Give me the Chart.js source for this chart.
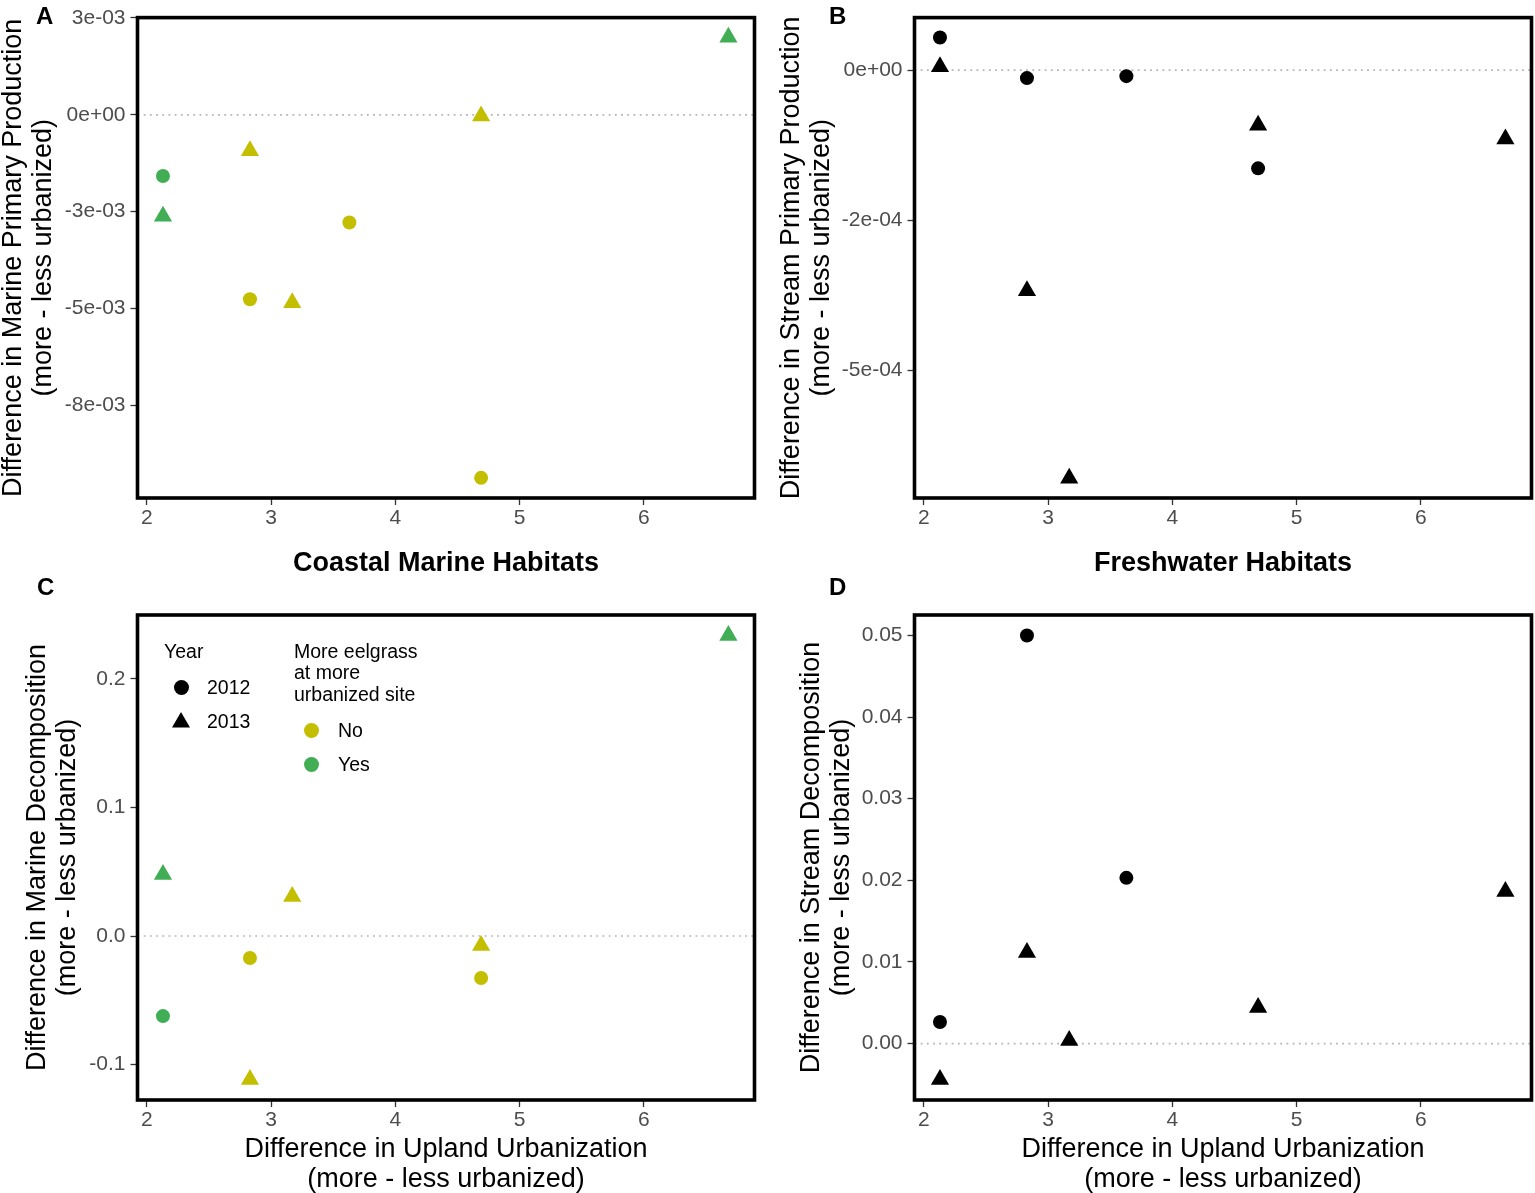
<!DOCTYPE html>
<html>
<head>
<meta charset="utf-8">
<script src="https://cdn.jsdelivr.net/npm/chart.js@4.4.1/dist/chart.umd.min.js"></script>
<style>
html,body{margin:0;padding:0;background:#fff;}
body{width:1535px;height:1193px;position:relative;overflow:hidden;font-family:'Liberation Sans',Arial,Helvetica,sans-serif;}
canvas{position:absolute;display:block;}
.letter{position:absolute;font-weight:bold;font-size:24px;line-height:24px;color:#000;}
.leg{position:absolute;font-size:19.5px;line-height:21.3px;color:#000;white-space:nowrap;}
.mk{position:absolute;}
.circ{width:15px;height:15px;border-radius:50%;}
.tri{width:18px;height:15.6px;clip-path:polygon(50% 0,100% 100%,0 100%);background:#000;}
</style>
</head>
<body>
<canvas id="cA" width="767" height="580" style="left:0;top:0;width:767px;height:580px"></canvas>
<canvas id="cB" width="760" height="580" style="left:775px;top:0;width:760px;height:580px"></canvas>
<canvas id="cC" width="767" height="613" style="left:0;top:580px;width:767px;height:613px"></canvas>
<canvas id="cD" width="760" height="613" style="left:775px;top:580px;width:760px;height:613px"></canvas>

<div class="letter" style="left:36px;top:4px">A</div>
<div class="letter" style="left:829px;top:4px">B</div>
<div class="letter" style="left:37px;top:575px">C</div>
<div class="letter" style="left:829px;top:575px">D</div>

<!-- legend inside panel C -->
<div class="leg" style="left:164px;top:641px">Year</div>
<div class="mk circ" style="left:173.5px;top:679.5px;background:#000"></div>
<div class="leg" style="left:207px;top:677px">2012</div>
<div class="mk tri" style="left:172px;top:712px"></div>
<div class="leg" style="left:207px;top:711px">2013</div>
<div class="leg" style="left:294px;top:641px">More eelgrass<br>at more<br>urbanized site</div>
<div class="mk circ" id="legNo" style="left:303.5px;top:722.5px"></div>
<div class="leg" style="left:338px;top:719.5px">No</div>
<div class="mk circ" id="legYes" style="left:303.5px;top:756.5px"></div>
<div class="leg" style="left:338px;top:753.5px">Yes</div>

<script>
// ---------------- data ----------------
const xTickValues = [2, 3, 4, 5, 6];

// A: marine primary production (coastal marine habitats)
const mppX2012 = [2.13, 2.83, 3.63, 4.69];
const mppY2012 = [-0.00158, -0.00476, -0.00278, -0.00937];
const mppEel2012 = ['Yes', 'No', 'No', 'No'];
const mppX2013 = [2.13, 2.83, 3.17, 4.69, 6.68];
const mppY2013 = [-0.00262, -0.00093, -0.00485, -0.00003, 0.00200];
const mppEel2013 = ['Yes', 'No', 'No', 'No', 'Yes'];
const aTickValues = [0.0025, 0, -0.0025, -0.005, -0.0075];
const aTickLabels = ['3e-03', '0e+00', '-3e-03', '-5e-03', '-8e-03'];

// B: stream primary production (freshwater habitats)
const sppX2012 = [2.13, 2.83, 3.63, 4.69];
const sppY2012 = [0.0000545, -0.0000132, -0.0000099, -0.0001634];
const sppX2013 = [2.13, 2.83, 3.17, 4.69, 6.68];
const sppY2013 = [0.0000058, -0.000367, -0.000679, -0.0000916, -0.0001147];
const bTickValues = [0, -0.00025, -0.0005];
const bTickLabels = ['0e+00', '-2e-04', '-5e-04'];

// C: marine decomposition
const mdX2012 = [2.13, 2.83, 4.69];
const mdY2012 = [-0.0623, -0.0171, -0.0327];
const mdEel2012 = ['Yes', 'No', 'No'];
const mdX2013 = [2.13, 2.83, 3.17, 4.69, 6.68];
const mdY2013 = [0.0479, -0.1117, 0.0307, -0.0074, 0.2339];
const mdEel2013 = ['Yes', 'No', 'No', 'No', 'Yes'];
const cTickValues = [0.2, 0.1, 0, -0.1];
const cTickLabels = ['0.2', '0.1', '0.0', '-0.1'];

// D: stream decomposition
const sdX2012 = [2.13, 2.83, 3.63];
const sdY2012 = [0.00263, 0.0500, 0.0203];
const sdX2013 = [2.13, 2.83, 3.17, 4.69, 6.68];
const sdY2013 = [-0.00441, 0.01115, 0.00037, 0.00441, 0.01863];
const dTickValues = [0.05, 0.04, 0.03, 0.02, 0.01, 0];
const dTickLabels = ['0.05', '0.04', '0.03', '0.02', '0.01', '0.00'];

const yearLabels = ['2012', '2013'];
const eelgrassLabels = ['No', 'Yes'];
const referenceValue = 0;

// ---------------- style ----------------
const FONT = "'Liberation Sans', Arial, Helvetica, sans-serif";
const eelColors = { No: '#C3BF00', Yes: '#41AE55' };
document.getElementById('legNo').style.background = eelColors.No;
document.getElementById('legYes').style.background = eelColors.Yes;
Chart.defaults.font.family = FONT;

const pts = (xs, ys) => xs.map((x, i) => ({ x: x, y: ys[i] }));

const zeroLine = {
  id: 'zeroLine',
  beforeDatasetsDraw(chart) {
    const { ctx, chartArea } = chart;
    const y = chart.scales.y.getPixelForValue(referenceValue);
    ctx.save();
    ctx.strokeStyle = '#B4B4B4';
    ctx.lineWidth = 1.7;
    ctx.setLineDash([1.8, 4.4]);
    ctx.beginPath();
    ctx.moveTo(chartArea.left, y);
    ctx.lineTo(chartArea.right, y);
    ctx.stroke();
    ctx.restore();
  }
};
const frame = {
  id: 'frame',
  afterDraw(chart) {
    const { ctx, chartArea } = chart;
    ctx.save();
    ctx.strokeStyle = '#000';
    ctx.lineWidth = 3.6;
    ctx.strokeRect(chartArea.left, chartArea.top, chartArea.right - chartArea.left, chartArea.bottom - chartArea.top);
    ctx.restore();
  }
};

function makeChart(id, c) {
  const datasets = [
    {
      label: yearLabels[0], data: pts(c.x12, c.y12), pointStyle: 'circle', pointRadius: 7,
      pointBackgroundColor: c.e12 ? c.e12.map(e => eelColors[e]) : '#000', pointBorderWidth: 0,
      pointHoverRadius: 7
    },
    {
      label: yearLabels[1], data: pts(c.x13, c.y13), pointStyle: 'triangle', pointRadius: 10.5,
      pointBackgroundColor: c.e13 ? c.e13.map(e => eelColors[e]) : '#000', pointBorderWidth: 0,
      pointHoverRadius: 10.5
    }
  ];
  return new Chart(document.getElementById(id), {
    type: 'scatter',
    data: { datasets: datasets },
    plugins: [zeroLine, frame],
    options: {
      responsive: false, maintainAspectRatio: false, animation: false,
      events: [],
      layout: { autoPadding: false, padding: { left: 0, right: c.padR, top: c.padT, bottom: 0 } },
      plugins: { legend: { display: false }, tooltip: { enabled: false } },
      scales: {
        x: {
          type: 'linear', position: 'bottom', min: 1.925, max: 6.89,
          afterBuildTicks: s => { s.ticks = xTickValues.map(v => ({ value: v })); },
          afterFit: s => { s.height = c.xH; },
          grid: { drawOnChartArea: false, drawTicks: true, tickLength: 7, tickWidth: 1.3, tickColor: '#333333' },
          border: { display: false },
          ticks: { padding: 1, color: '#4D4D4D', font: { size: 21, family: FONT }, autoSkip: false, maxRotation: 0, callback: v => String(v) },
          title: { display: true, text: c.xTitle, color: '#000', font: { size: 27, family: FONT, weight: c.xBold ? 'bold' : 'normal', lineHeight: 1.1 }, padding: { top: 0, bottom: c.xTitlePad } }
        },
        y: {
          type: 'linear', position: 'left', min: c.yMin, max: c.yMax,
          afterBuildTicks: s => { s.ticks = c.yVals.map(v => ({ value: v })); },
          afterFit: s => { s.width = c.yW; },
          grid: { drawOnChartArea: false, drawTicks: true, tickLength: 7, tickWidth: 1.3, tickColor: '#333333' },
          border: { display: false },
          ticks: { padding: 5, color: '#4D4D4D', font: { size: 21, family: FONT }, autoSkip: false, callback: v => c.yLabels[c.yVals.indexOf(v)] },
          title: { display: true, text: c.yTitle, color: '#000', font: { size: 27, family: FONT, lineHeight: 1.1 }, padding: { top: c.yTitlePad, bottom: 0 } }
        }
      }
    }
  });
}

const urbTitle = ['Difference in Upland Urbanization', '(more - less urbanized)'];

makeChart('cA', {
  x12: mppX2012, y12: mppY2012, e12: mppEel2012, x13: mppX2013, y13: mppY2013, e13: mppEel2013,
  yMin: -0.00989, yMax: 0.00251, yVals: aTickValues, yLabels: aTickLabels,
  yTitle: ['Difference in Marine Primary Production', '(more - less urbanized)'], yTitlePad: -1.4,
  xTitle: 'Coastal Marine Habitats', xBold: true, xTitlePad: 2,
  padR: 12.5, padT: 14.5, yW: 137.5, xH: 82
});
makeChart('cB', {
  x12: sppX2012, y12: sppY2012, x13: sppX2013, y13: sppY2013,
  yMin: -0.000712, yMax: 0.0000875, yVals: bTickValues, yLabels: bTickLabels,
  yTitle: ['Difference in Stream Primary Production', '(more - less urbanized)'], yTitlePad: 2.1,
  xTitle: 'Freshwater Habitats', xBold: true, xTitlePad: 2,
  padR: 3.5, padT: 14.5, yW: 139.5, xH: 82
});
makeChart('cC', {
  x12: mdX2012, y12: mdY2012, e12: mdEel2012, x13: mdX2013, y13: mdY2013, e13: mdEel2013,
  yMin: -0.1276, yMax: 0.2498, yVals: cTickValues, yLabels: cTickLabels,
  yTitle: ['Difference in Marine Decomposition', '(more - less urbanized)'], yTitlePad: 23.1,
  xTitle: urbTitle, xBold: false, xTitlePad: -1.5,
  padR: 12.5, padT: 35, yW: 137.5, xH: 93
});
makeChart('cD', {
  x12: sdX2012, y12: sdY2012, x13: sdX2013, y13: sdY2013,
  yMin: -0.00692, yMax: 0.05251, yVals: dTickValues, yLabels: dTickLabels,
  yTitle: ['Difference in Stream Decomposition', '(more - less urbanized)'], yTitlePad: 22.1,
  xTitle: urbTitle, xBold: false, xTitlePad: -1.5,
  padR: 3.5, padT: 35, yW: 139.5, xH: 93
});
</script>
</body>
</html>
